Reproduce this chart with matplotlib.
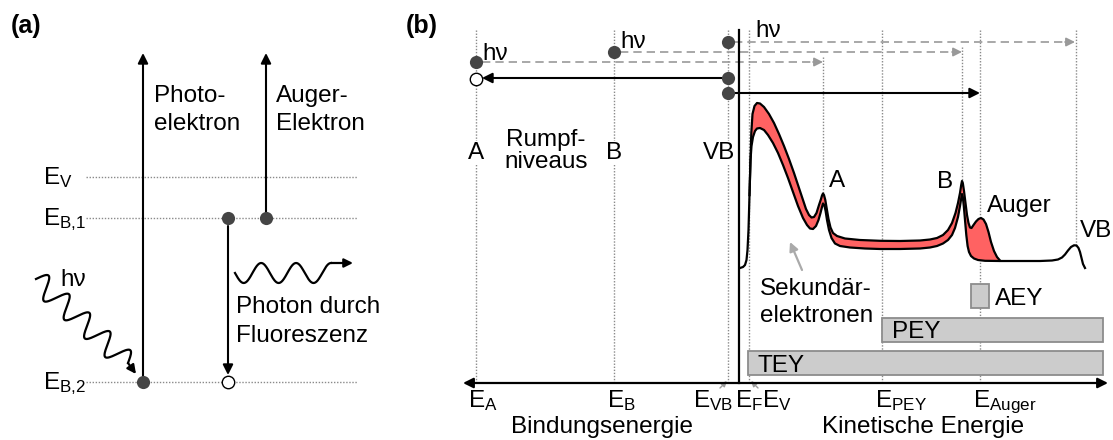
import numpy as np
import matplotlib.pyplot as plt

plt.rcParams['font.family'] = ['Liberation Sans', 'DejaVu Sans']
plt.rcParams['mathtext.fontset'] = 'custom'
plt.rcParams['mathtext.rm'] = 'Liberation Sans'
plt.rcParams['mathtext.default'] = 'regular'

W, H = 1113, 440  # canvas in pixels, y grows downwards

# ---- panel (a): energy levels ----
level_labels = ['E$_V$', 'E$_{B{,}1}$', 'E$_{B{,}2}$']
level_y = [177, 218, 382]
level_span = [86, 357]

# ---- panel (b): positions along the energy axis ----
full_lines = [476, 614, 728, 749, 882, 980]          # dotted markers down to the axis
peak_lines_x = [823, 962, 1076]                      # dotted markers ending at a peak
peak_lines_top = [57, 47, 30]
peak_lines_bottom = [193, 180, 245]

core_labels = ['A', 'B', 'VB']
core_x = [476, 614, 735]

axis_labels = ['E$_A$', 'E$_B$', 'E$_{VB}$', 'E$_F$', 'E$_V$', 'E$_{PEY}$', 'E$_{Auger}$']
axis_label_x = [468, 607, 733, 735, 762, 875, 973]

# spectrum: lower (background) and upper outline
lower_x = [740, 743, 745, 746.5, 747.5, 748.5, 749.5, 750.5, 751.5, 753, 755, 757, 760, 764,
           768, 773, 778, 783, 788, 793, 798, 803, 807, 810, 813, 816, 818.5, 820.5, 822,
           823, 824.3, 825.6, 827, 829, 831.5, 835, 840, 850, 865, 880, 900, 920, 930, 937,
           943, 948, 952, 955, 958, 960, 961.3, 962, 962.8, 963.8, 965, 966.3, 967.6, 969,
           971, 974, 978, 985, 1000, 1020, 1040, 1052, 1058, 1062, 1065, 1068, 1071, 1074,
           1076.5, 1078.5, 1080, 1081.5, 1083, 1085]
lower_y = [268, 267, 265, 260, 250, 230, 195, 160, 146, 137, 131, 128.5, 128, 130, 135, 143,
           153, 165, 178, 192, 206, 218, 225, 228.5, 229, 226, 220, 213, 207, 203.5, 205, 211,
           220, 230, 238, 243.5, 246, 247.5, 248.5, 249, 249, 248.5, 247.5, 246, 243.5, 240,
           235, 228, 217, 206, 198, 194, 197, 206, 220, 235, 246, 252, 256, 258.5, 260,
           260.8, 261, 261, 261, 260.5, 259.5, 257.5, 254.5, 250.5, 247, 245.3, 245.5, 248,
           252, 258, 264, 268]
upper_x = [749.5, 750.5, 751.3, 752.5, 754.5, 757, 760, 764, 769, 774, 779, 784, 789, 794,
           799, 803, 806, 809, 811.5, 814, 816.5, 819, 821, 822, 823, 824, 825.3, 826.8,
           828.5, 830.5, 833, 837, 845, 860, 880, 900, 920, 930, 937, 943, 948, 952, 955.5,
           958, 960, 961.2, 962, 962.8, 964, 965.5, 967, 968.5, 970, 971.5, 973.5, 976, 978.5,
           981, 983.5, 986, 988.5, 991, 994, 997, 1000]
upper_y = [195, 160, 133, 114, 106, 103, 103.5, 107, 114, 123, 134, 146, 159, 173, 188, 200,
           209, 215, 217.5, 217, 213, 205, 199, 195.5, 193.5, 195, 200, 209, 219, 227.5, 233,
           236, 238.5, 240, 240.8, 241, 240.5, 239.5, 238, 235, 230, 223, 213, 203, 193,
           185, 181, 183, 191, 203, 215, 223, 227.5, 228, 225, 221.5, 219, 218, 219.5, 224,
           232, 242, 251, 257, 260.5]

# yield boxes
box_labels = ['TEY', 'PEY', 'AEY']
box_start = [748, 882, 971]
box_end = [1103, 1103, 989]
box_center = [363, 330, 296.5]

FS = 17.5
DOT = '#454545'
GRAY = '#999999'
RED = '#ff6262'

fig = plt.figure(figsize=(W / 100, H / 100), dpi=100)
ax = fig.add_axes([0, 0, 1, 1])
ax.set_xlim(0, W)
ax.set_ylim(H, 0)
ax.axis('off')


def arrow(x0, y0, x1, y1, color='k', lw=1.5, ms=15, z=3):
    ax.annotate('', xy=(x1, y1), xytext=(x0, y0),
                arrowprops=dict(arrowstyle='-|>', color=color, lw=lw, mutation_scale=ms,
                                shrinkA=0, shrinkB=0), zorder=z)


def dashed_arrow(x0, x1, y):
    ax.plot([x0, x1 - 8], [y, y], color=GRAY, lw=1.2, ls=(0, (5, 3)), zorder=2)
    arrow(x1 - 10, y, x1, y, color=GRAY, lw=1.2, ms=13, z=2)


def dotted(x, y0, y1):
    ax.plot([x, x], [y0, y1], color='#8a8a8a', lw=1.0, ls=(0, (1, 1.2)), zorder=1)


def text_rows(x, y0, rows, dy, **kw):
    for i, r in enumerate(rows):
        ax.text(x, y0 + i * dy, r, fontsize=FS, va='baseline', **kw)


def photon(p0, p1, amp, periods, tail, ms=13):
    # wavy photon line along p0 -> p1, followed by a short arrow
    p0, p1 = np.array(p0, float), np.array(p1, float)
    d = p1 - p0
    L = np.hypot(*d)
    u = d / L
    n = np.array([u[1], -u[0]])
    t = np.linspace(0, 1, 300)
    pts = p0[None, :] + np.outer(t * L, u) + np.outer(amp * np.sin(2 * np.pi * periods * t), n)
    ax.plot(pts[:, 0], pts[:, 1], color='k', lw=1.6, zorder=3)
    end = pts[-1]
    arrow(end[0], end[1], end[0] + tail[0], end[1] + tail[1], lw=1.6, ms=ms)


# ================= panel (a) =================
ax.text(11, 33, '(a)', fontsize=18, fontweight='bold', va='baseline')
for lab, y in zip(level_labels, level_y):
    ax.plot(level_span, [y, y], color='#8a8a8a', lw=1.0, ls=(0, (1, 1.2)), zorder=1)
    ax.text(43, y + 7.5, lab, fontsize=FS, va='baseline')

arrow(143, 376, 143, 53)
arrow(266, 212, 266, 53)
arrow(228, 226, 228, 375)
ax.scatter([143, 228, 266], [382, 218, 218], s=90, c=DOT, zorder=5, lw=0)
ax.scatter([228], [382], s=80, facecolors='white', edgecolors='k', lw=1.0, zorder=5)

text_rows(154, 102, ['Photo-', 'elektron'], 27.5)
text_rows(276, 102, ['Auger-', 'Elektron'], 27.5)
text_rows(236, 313, ['Photon durch', 'Fluoreszenz'], 29)
ax.text(60, 286, 'hν', fontsize=FS, va='baseline')

photon((36, 279), (128, 363), 11, 4.5, (8, 11))
photon((235, 273), (331, 273), -10, 2.75, (22, 0))

# ================= panel (b) =================
ax.text(406, 33, '(b)', fontsize=18, fontweight='bold', va='baseline')

for x in full_lines:
    dotted(x, 30, 382)
for x, y0, y1 in zip(peak_lines_x, peak_lines_top, peak_lines_bottom):
    dotted(x, y0, y1)

# axes
ax.plot([739, 739], [30, 383], color='k', lw=1.6, zorder=4)
ax.annotate('', xy=(463, 383), xytext=(1108, 383),
            arrowprops=dict(arrowstyle='<|-|>', color='k', lw=1.6, mutation_scale=15,
                            shrinkA=0, shrinkB=0), zorder=4)

# excitation arrows
dashed_arrow(482, 823, 62)
dashed_arrow(620, 962, 52)
dashed_arrow(734, 1075, 42)
arrow(722, 78, 482, 78)
arrow(734, 93, 980, 93)
ax.scatter([476, 614, 728, 728, 728], [62, 52, 42, 78, 93], s=90, c=DOT, zorder=5, lw=0)
ax.scatter([476], [79], s=80, facecolors='white', edgecolors='k', lw=1.0, zorder=5)
ax.text(482, 60, 'hν', fontsize=FS, va='baseline')
ax.text(620, 48, 'hν', fontsize=FS, va='baseline')
ax.text(755, 37, 'hν', fontsize=FS, va='baseline')

# core level labels
for lab, x in zip(core_labels, core_x):
    ax.text(x, 159, lab, fontsize=FS, va='baseline', ha='right' if lab == 'VB' else 'center',
            bbox=dict(fc='white', ec='none', pad=0.5), zorder=3)
text_rows(546, 146, ['Rumpf-', 'niveaus'], 22.5, ha='center')

# spectrum
lx, ly = np.array(lower_x), np.array(lower_y)
ux, uy = np.array(upper_x), np.array(upper_y)
m = (lx >= 749.5) & (lx <= 1000)
ax.fill(np.concatenate([ux, lx[m][::-1]]), np.concatenate([uy, ly[m][::-1]]),
        color=RED, lw=0, zorder=3)
ax.plot(lx, ly, color='k', lw=1.6, zorder=4, solid_joinstyle='round')
ax.plot(ux, uy, color='k', lw=1.6, zorder=4, solid_joinstyle='round')

ax.text(829, 187, 'A', fontsize=FS, va='baseline')
ax.text(953, 188, 'B', fontsize=FS, va='baseline', ha='right')
ax.text(987, 212, 'Auger', fontsize=FS, va='baseline')
ax.text(1080, 237, 'VB', fontsize=FS, va='baseline')

text_rows(760, 295, ['Sekundär-', 'elektronen'], 27)
arrow(802, 270, 790, 242, color='#aaaaaa', lw=1.6, ms=13)

# yield windows
ax.barh(box_center, np.array(box_end) - np.array(box_start), left=box_start, height=24,
        color='#cccccc', edgecolor='#8c8c8c', lw=1.3, zorder=5)
for lab, x0, yc in zip(box_labels, box_start, box_center):
    ax.text(x0 + (24 if lab == 'AEY' else 10), yc + 8.5, lab, fontsize=FS, va='baseline',
            zorder=6)

# energy axis labels
for lab, x in zip(axis_labels, axis_label_x):
    ax.text(x, 407, lab, fontsize=FS, va='baseline', ha='right' if lab == 'E$_{VB}$' else 'left')
arrow(720, 388, 727, 381, color=GRAY, lw=1.0, ms=8)
arrow(758, 388, 751, 381, color=GRAY, lw=1.0, ms=8)

ax.text(602, 433, 'Bindungsenergie', fontsize=FS, va='baseline', ha='center')
ax.text(923, 433, 'Kinetische Energie', fontsize=FS, va='baseline', ha='center')

fig.savefig('out.png', dpi=100)
